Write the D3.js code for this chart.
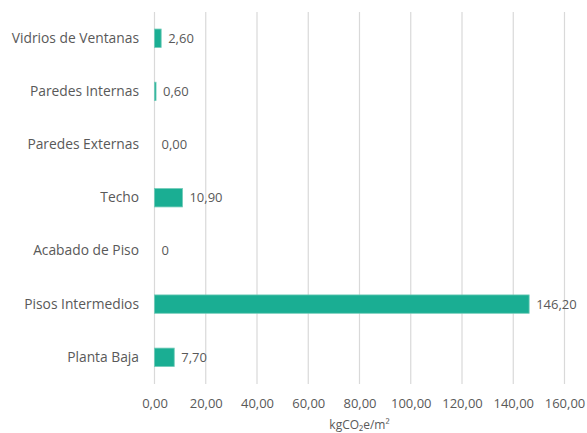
<!DOCTYPE html>
<html>
<head>
<meta charset="utf-8">
<script src="https://cdn.jsdelivr.net/npm/d3@7"></script>
<style>
  html, body { margin: 0; padding: 0; background: #fff; }
  svg text { font-family: "Open Sans", sans-serif; fill: #595959; }
</style>
</head>
<body>
<svg id="chart" width="587" height="433"></svg>
<script>
// Embodied carbon per building element (kgCO2e/m²)
const categories = ["Vidrios de Ventanas", "Paredes Internas", "Paredes Externas", "Techo", "Acabado de Piso", "Pisos Intermedios", "Planta Baja"];
const values = [2.60, 0.60, 0.00, 10.90, 0, 146.20, 7.70];
const valueLabels = ["2,60", "0,60", "0,00", "10,90", "0", "146,20", "7,70"];
const tickValues = [0, 20, 40, 60, 80, 100, 120, 140, 160];
const axisTitle = "kgCO₂e/m²";

const svg = d3.select("#chart");
const fmt = d => d3.format(".2f")(d).replace(".", ",");

const x = d3.scaleLinear().domain([0, 160]).range([154.5, 564.5]);
const y = d3.scaleBand().domain(categories).range([11.5, 384]).paddingInner(0.655).paddingOuter(0.33);

// vertical gridlines
svg.append("g")
  .selectAll("line")
  .data(tickValues)
  .join("line")
  .attr("x1", d => x(d)).attr("x2", d => x(d))
  .attr("y1", 12).attr("y2", 384)
  .attr("stroke", "#d9d9d9").attr("stroke-width", 1.2);

// x-axis tick labels
const xAxis = d3.axisBottom(x).tickValues(tickValues).tickFormat(fmt).tickSize(0).tickPadding(0);
const gx = svg.append("g").attr("transform", "translate(0,399)").call(xAxis);
gx.select(".domain").remove();
gx.selectAll("text").attr("font-size", 13).attr("dy", "0.71em").attr("font-family", null);

// axis title
svg.append("text")
  .attr("x", (x(0) + x(160)) / 2).attr("y", 429)
  .attr("text-anchor", "middle").attr("font-size", 12)
  .text(axisTitle);

// category labels
const yAxis = d3.axisLeft(y).tickSize(0).tickPadding(0);
const gy = svg.append("g").attr("transform", "translate(139,0)").call(yAxis);
gy.select(".domain").remove();
gy.selectAll("text").attr("font-size", 13.8).attr("font-family", null);

// bars
svg.append("g")
  .selectAll("rect")
  .data(values)
  .join("rect")
  .attr("x", x(0))
  .attr("y", (d, i) => y(categories[i]))
  .attr("width", d => x(d) - x(0))
  .attr("height", y.bandwidth())
  .attr("fill", "#1aae93")
  .attr("stroke", "#6fcab7").attr("stroke-width", d => d > 0 ? 0.8 : 0);

// value labels
svg.append("g")
  .selectAll("text")
  .data(values)
  .join("text")
  .attr("x", d => x(d) + 7)
  .attr("y", (d, i) => y(categories[i]) + y.bandwidth() / 2)
  .attr("dy", "0.35em")
  .attr("font-size", 13)
  .text((d, i) => valueLabels[i]);
</script>
</body>
</html>
